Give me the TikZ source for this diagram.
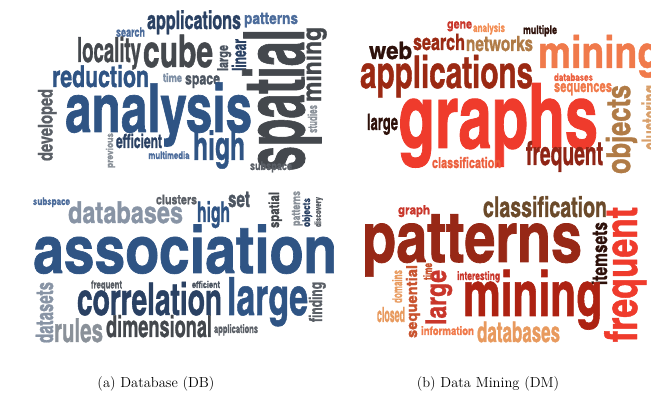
\documentclass[tikz,border=0pt]{standalone}
\usepackage{fontspec}
\usepackage{graphicx}
\newfontfamily\cloudfont[FakeBold=1]{texgyreheroscn-bold.otf}
% DB colours
\definecolor{dbnavy}{HTML}{2A4163}
\definecolor{dbblue}{HTML}{2F5484}
\definecolor{dbmid}{HTML}{4C6C9B}
\definecolor{dbdark}{HTML}{44484D}
\definecolor{dbslate}{HTML}{4C5561}
\definecolor{dbgray}{HTML}{5A5F66}
\definecolor{dblight}{HTML}{8A9199}
\definecolor{dbpale}{HTML}{8894A5}
\definecolor{dbtime}{HTML}{7F90A6}
% DM colours
\definecolor{dmred}{HTML}{EF3B2C}
\definecolor{dmdred}{HTML}{9B2913}
\definecolor{dmmaroon}{HTML}{8F2415}
\definecolor{dmblack}{HTML}{2E110A}
\definecolor{dmorange}{HTML}{F07A4B}
\definecolor{dmlorange}{HTML}{F28C52}
\definecolor{dmtan}{HTML}{B07B46}
\definecolor{dmltan}{HTML}{D9A06B}
\definecolor{dmrorange}{HTML}{EC5F3D}
\definecolor{dmgene}{HTML}{C9362B}
\definecolor{dmbrown}{HTML}{6B4A2A}
\definecolor{dmpat}{HTML}{972816}
\definecolor{dmmin}{HTML}{AD2212}
\definecolor{dmsand}{HTML}{E89A5E}
\definecolor{dmseq}{HTML}{C9532E}
\tikzset{cw/.style={inner sep=0pt,outer sep=0pt,anchor=base west},
  caption/.style={anchor=base,inner sep=0pt,font=\fontsize{14.5}{17}\selectfont}}
% name, x, y, rotation, width, height, colour, word
\newcommand\cw[8]{\node[cw,rotate=#4,text=#7] (#1) at (#2,#3) {\resizebox{#5pt}{#6pt}{\cloudfont\raisebox{0pt}[1.25ex][0pt]{#8}}};}
\begin{document}
\begin{tikzpicture}[x=1pt,y=-1pt]
\useasboundingbox (0,0) rectangle (651,403);
% ---------- (a) top
\cw{a1}{147}{29}{0}{94}{17}{dbnavy}{applications}
\cw{a2}{244}{24}{0}{54}{11}{dbmid}{patterns}
\cw{a3}{116}{36.7}{0}{29}{8.7}{dbmid}{search}
\cw{a4}{77}{62}{0}{64}{23}{dbdark}{locality}
\cw{a5}{143}{67}{0}{70}{30}{dbdark}{cube}
\cw{a6}{228}{71}{90}{26}{10}{dbslate}{large}
\cw{a7}{246}{71}{90}{32}{13}{dbnavy}{linear}
\cw{a8}{304}{171}{90}{142}{56}{dbdark}{spatial}
\cw{a9}{321}{102}{90}{75}{17.7}{dbdark}{mining}
\cw{a10}{52}{87}{0}{97}{20}{dbblue}{reduction}
\cw{a11}{163}{82}{0}{19}{8}{dbtime}{time}
\cw{a12}{185}{84.5}{0}{35}{11.3}{dbslate}{space}
\cw{a13}{65}{132}{0}{187}{45}{dbblue}{analysis}
\cw{a14}{52.5}{161}{90}{72}{13.5}{dbgray}{developed}
\cw{a15}{113}{168}{90}{35}{6.5}{dblight}{previous}
\cw{a16}{116}{148}{0}{46}{13}{dbnavy}{efficient}
\cw{a17}{148.5}{159}{0}{41}{7}{dbmid}{multimedia}
\cw{a18}{193}{160}{0}{52}{27}{dbblue}{high}
\cw{a19}{250}{170}{0}{42}{8}{dbgray}{subspace}
\cw{a20}{317}{133}{90}{28}{8.5}{dblight}{studies}
% ---------- (b) top
\cw{b1}{447}{28.5}{0}{25}{8.8}{dmgene}{gene}
\cw{b2}{473}{32}{0}{32}{8}{dmlorange}{analysis}
\cw{b3}{523}{34}{0}{34}{8}{dmblack}{multiple}
\cw{b4}{369}{59}{0}{43}{16}{dmblack}{web}
\cw{b5}{413}{50}{0}{52}{15}{dmdred}{search}
\cw{b6}{466}{51}{0}{67}{14}{dmtan}{networks}
\cw{b7}{538}{68}{0}{122}{30}{dmorange}{mining}
\cw{b8}{360}{88}{0}{173}{30}{dmdred}{applications}
\cw{b9}{554}{81}{0}{39}{7}{dmrorange}{databases}
\cw{b10}{554}{92}{0}{58}{11}{dmorange}{sequences}
\cw{b11}{398}{148}{0}{200}{60}{dmred}{graphs}
\cw{b12}{630}{174}{90}{89}{22}{dmtan}{objects}
\cw{b13}{660}{150}{90}{65}{17}{dmltan}{clustering}
\cw{b14}{367}{130}{0}{31}{15}{dmblack}{large}
\cw{b15}{526}{165}{0}{77}{22}{dmmaroon}{frequent}
\cw{b16}{432}{168}{0}{69}{10}{dmrorange}{classification}
% ---------- (a) bottom
\cw{c1}{33}{205}{0}{37}{7}{dbmid}{subspace}
\cw{c2}{156}{204.3}{0}{41}{9}{dbgray}{clusters}
\cw{c3}{228}{207}{0}{22}{15}{dbslate}{set}
\cw{c4}{68}{223}{0}{115}{20}{dbpale}{databases}
\cw{c5}{197}{222}{0}{33}{19}{dbblue}{high}
\cw{c6}{279}{228}{90}{36}{9.5}{dbdark}{spatial}
\cw{c7}{300}{226}{90}{35}{8}{dblight}{patterns}
\cw{c8}{310}{227}{90}{29}{7}{dbnavy}{objects}
\cw{c9}{321}{227}{90}{30}{6}{dbgray}{discovery}
\cw{c10}{33}{273}{0}{304}{44}{dbblue}{association}
\cw{c11}{91}{288.5}{0}{31}{7.5}{dbgray}{frequent}
\cw{c12}{192}{288}{0}{28}{6.5}{dbslate}{efficient}
\cw{c13}{53}{343}{90}{61}{16}{dbpale}{datasets}
\cw{c14}{77}{315}{0}{145}{30}{dbnavy}{correlation}
\cw{c15}{227}{315}{0}{81}{35}{dbblue}{large}
\cw{c16}{322}{322}{90}{40}{12}{dbgray}{finding}
\cw{c17}{54}{342}{0}{49}{22}{dblight}{rules}
\cw{c18}{106}{337}{0}{106}{20}{dbdark}{dimensional}
\cw{c19}{214}{333}{0}{44}{8}{dbgray}{applications}
% ---------- (b) bottom
\cw{d1}{398}{214.3}{0}{32}{8.5}{dmgene}{graph}
\cw{d2}{483}{217}{0}{124}{19}{dmbrown}{classification}
\cw{d3}{362}{262}{0}{220}{47}{dmpat}{patterns}
\cw{d4}{637}{342}{90}{135}{30}{dmred}{frequent}
\cw{d5}{607}{285}{90}{63}{14}{dmblack}{itemsets}
\cw{d6}{463}{316}{0}{139}{42}{dmmin}{mining}
\cw{d7}{457}{280}{0}{43}{8}{dmgene}{interesting}
\cw{d8}{446}{325}{90}{55}{19}{dmgene}{large}
\cw{d9}{432}{280}{90}{17}{8}{dmseq}{time}
\cw{d10}{402}{303}{90}{33}{9}{dmsand}{domains}
\cw{d11}{417}{338}{90}{73}{10}{dmseq}{sequential}
\cw{d12}{377}{322}{0}{28}{14}{dmsand}{closed}
\cw{d13}{421}{335}{0}{53}{8}{dmorange}{information}
\cw{d14}{477}{342}{0}{83}{19}{dmsand}{databases}
% ---------- captions
\node[caption] (capa) at (156,388) {(a) Database (DB)};
\node[caption] (capb) at (488,388) {(b) Data Mining (DM)};
\end{tikzpicture}
\end{document}
